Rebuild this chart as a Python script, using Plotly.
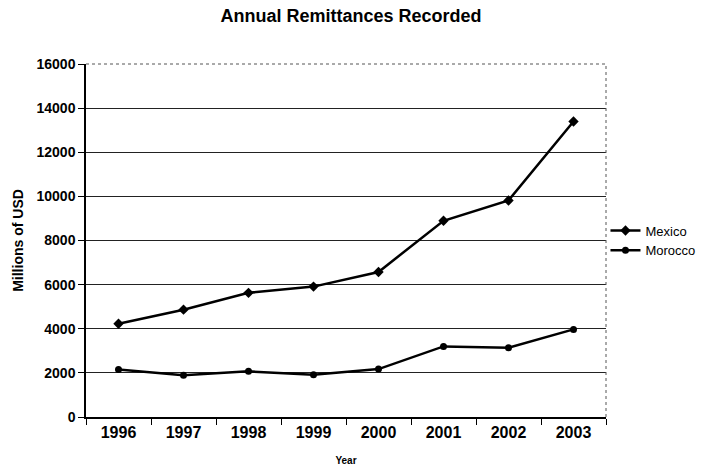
import plotly.graph_objects as go

# Annual remittances, millions of USD
years = ["1996", "1997", "1998", "1999", "2000", "2001", "2002", "2003"]
mexico = [4224, 4865, 5627, 5910, 6573, 8895, 9814, 13396]
morocco = [2150, 1890, 2070, 1910, 2170, 3200, 3140, 3970]
y_ticks = [0, 2000, 4000, 6000, 8000, 10000, 12000, 14000, 16000]

FONT = "Arial, Liberation Sans, Helvetica, sans-serif"

fig = go.Figure()
fig.add_trace(go.Scatter(
    x=years, y=mexico, name="Mexico", mode="lines+markers",
    line=dict(color="black", width=2.5),
    marker=dict(symbol="diamond", size=8, color="black"),
))
fig.add_trace(go.Scatter(
    x=years, y=morocco, name="Morocco", mode="lines+markers",
    line=dict(color="black", width=2.5),
    marker=dict(symbol="circle", size=7, color="black"),
))

# dotted top and right edges of the plot frame
fig.add_shape(type="line", xref="paper", yref="paper", x0=0, x1=1, y0=1, y1=1,
              line=dict(color="#555", width=1, dash="dot"))
fig.add_shape(type="line", xref="paper", yref="paper", x0=1, x1=1, y0=0, y1=1,
              line=dict(color="#555", width=1, dash="dot"))

fig.update_layout(
    width=702, height=467,
    margin=dict(l=86, r=96, t=64, b=50, autoexpand=False),
    paper_bgcolor="white", plot_bgcolor="white",
    font=dict(family=FONT, color="black"),
    title=dict(text="<b>Annual Remittances Recorded</b>", x=0.5, xref="container",
               xanchor="center", y=0.967, yanchor="middle",
               font=dict(size=18, family=FONT, color="black")),
    showlegend=True,
    legend=dict(x=0.999, y=0.5, xanchor="left", yanchor="middle",
                font=dict(size=13, family=FONT), tracegroupgap=0,
                itemwidth=30, bgcolor="rgba(0,0,0,0)"),
    xaxis=dict(
        type="category", categoryorder="array", categoryarray=years,
        range=[-0.5, len(years) - 0.5],
        showline=True, linecolor="black", linewidth=1.5,
        ticks="outside", tickson="boundaries", ticklen=6, tickcolor="black",
        showgrid=False, zeroline=False,
        tickfont=dict(size=16, family=FONT, weight="bold"),
        title=dict(text="<b>Year</b>", font=dict(size=10, family=FONT), standoff=17),
    ),
    yaxis=dict(
        range=[0, 16000], tickvals=y_ticks, ticktext=[str(v) for v in y_ticks],
        showline=True, linecolor="black", linewidth=1.5,
        ticks="outside", ticklen=6, tickcolor="black",
        showgrid=True, gridcolor="#222", gridwidth=1, zeroline=False,
        tickfont=dict(size=14, family=FONT, weight="bold"),
        title=dict(text="<b>Millions of USD</b>", font=dict(size=14, family=FONT), standoff=10),
    ),
)

fig.write_html("out.html")
